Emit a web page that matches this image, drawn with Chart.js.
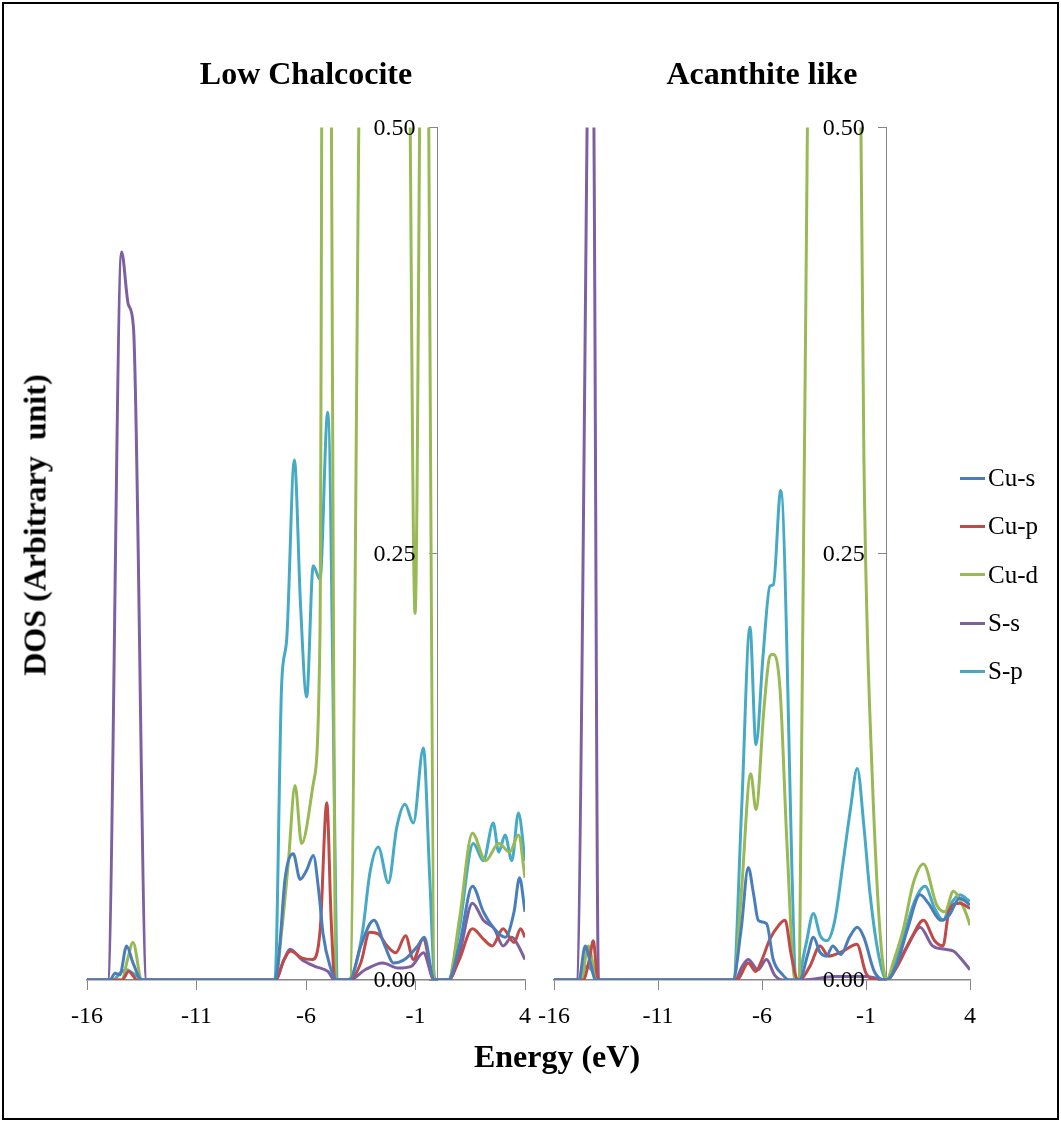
<!DOCTYPE html>
<html>
<head>
<meta charset="utf-8">
<script src="https://cdn.jsdelivr.net/npm/chart.js@4.4.1/dist/chart.umd.min.js"></script>
<style>
  body { margin: 0; background: #fff; font-family: "Liberation Serif", "Times New Roman", serif; }
  #frame { position: absolute; left: 2px; top: 2px; width: 1053px; height: 1114px; border: 2px solid #000; }
  .panel { position: absolute; }
  #yTitle { position: absolute; left: 35px; top: 525px; transform: translate(-50%, -50%) rotate(-90deg);
            font-weight: bold; font-size: 32px; white-space: pre; }
  #xTitle { position: absolute; left: 557px; top: 1056px; transform: translate(-50%, -50%);
            font-weight: bold; font-size: 32px; white-space: pre; }
  #legend { position: absolute; left: 960px; top: 454px; }
  .item { height: 48.3px; display: flex; align-items: center; font-size: 25px; }
  .swatch { width: 25px; height: 3px; margin-right: 3px; }
</style>
</head>
<body>
<div id="frame"></div>
<div class="panel" style="left:40px; top:40px; width:530px; height:1000px;"><canvas id="lowChalcocite"></canvas></div>
<div class="panel" style="left:524px; top:40px; width:494px; height:1000px;"><canvas id="acanthite"></canvas></div>
<div id="yTitle">DOS (Arbitrary  unit)</div>
<div id="xTitle">Energy (eV)</div>
<div id="legend"></div>

<script>
// Energy axis ticks (eV) and DOS ticks
const energyTicks = [-16, -11, -6, -1, 4];
const dosTicks = [0, 0.25, 0.5];

const seriesNames = ["Cu-s", "Cu-p", "Cu-d", "S-s", "S-p"];
const seriesColors = ["#4A7EBB", "#BE4B48", "#98B954", "#7D60A0", "#46AAC5"];

// Low Chalcocite PDOS, [energy, dos] pairs
const lcCuS = [[-16,0],[-14.95,0],[-14.72,0.004],[-14.5,0.003],[-14.19,0.02],[-13.9,0.01],[-13.5,0],
  [-7.4,0],[-7.2,0.02],[-6.96,0.059],[-6.58,0.074],[-6.27,0.059],[-5.95,0.065],[-5.67,0.073],[-5.4,0.05],[-5.22,0.027],[-4.9,0.008],[-4.6,0],
  [-4.0,0],[-3.5,0.02],[-2.9,0.035],[-2.4,0.02],[-2.0,0.01],[-1.5,0.012],[-0.9,0.02],[-0.6,0.025],[-0.15,0],
  [0.5,0],[1.0,0.02],[1.6,0.055],[2.1,0.04],[2.6,0.03],[3.1,0.025],[3.5,0.04],[3.75,0.06],[4,0.04]];
const lcCuP = [[-16,0],[-14.4,0],[-14.1,0.005],[-13.7,0],
  [-7.4,0],[-7.0,0.012],[-6.7,0.017],[-6.2,0.013],[-5.7,0.012],[-5.35,0.03],[-5.05,0.104],[-4.85,0.035],[-4.68,0],
  [-4.0,0],[-3.5,0.01],[-3.1,0.028],[-2.7,0.027],[-2.3,0.02],[-1.9,0.016],[-1.45,0.026],[-1.1,0.012],[-0.65,0.024],[-0.15,0],
  [0.5,0],[1.0,0.012],[1.6,0.03],[2.1,0.024],[2.5,0.02],[3.0,0.03],[3.5,0.022],[3.8,0.03],[4,0.025]];
const lcCuD = [[-16,0],[-14.4,0],[-14.15,0.012],[-13.9,0.022],[-13.5,0],
  [-7.4,0],[-7.1,0.03],[-6.8,0.07],[-6.5,0.114],[-6.2,0.08],[-5.67,0.115],[-5.36,0.204],[-5.22,0.7],[-4.95,0.7],[-4.63,0],
  [-4.0,0],[-3.4,0.7],[-2.5,0.8],[-1.4,0.7],[-1.02,0.215],[-0.65,0.7],[-0.55,0.7],[-0.11,0],
  [0.5,0],[1.0,0.035],[1.6,0.086],[2.2,0.07],[2.8,0.08],[3.3,0.075],[3.7,0.085],[4,0.06]];
const lcSS = [[-16,0],[-15.05,0],[-14.42,0.427],[-14.11,0.396],[-13.88,0.383],[-13.28,0],
  [-7.4,0],[-7.0,0.012],[-6.73,0.018],[-6.2,0.012],[-5.6,0.008],[-5.0,0.005],[-4.7,0],
  [-4.0,0],[-3.3,0.006],[-2.5,0.01],[-1.8,0.007],[-1.2,0.008],[-0.64,0.016],[-0.15,0],
  [0.5,0],[1.0,0.015],[1.6,0.045],[2.1,0.035],[2.6,0.03],[3.0,0.02],[3.4,0.025],[3.7,0.02],[4,0.012]];
const lcSP = [[-16,0],[-14.8,0],[-14.5,0.004],[-14.2,0.006],[-13.8,0.003],[-13.4,0],
  [-7.42,0],[-7.11,0.174],[-6.88,0.2],[-6.53,0.305],[-6.25,0.22],[-5.97,0.166],[-5.67,0.243],[-5.36,0.235],[-5.01,0.333],[-4.52,0],
  [-4.1,0],[-3.7,0.01],[-3.4,0.03],[-3.08,0.063],[-2.7,0.078],[-2.24,0.057],[-1.85,0.09],[-1.48,0.103],[-1.1,0.092],[-0.64,0.136],[-0.35,0.06],[-0.11,0],
  [0.5,0],[1.0,0.03],[1.64,0.08],[2.1,0.07],[2.55,0.092],[2.8,0.075],[3.09,0.085],[3.4,0.07],[3.7,0.098],[4,0.07]];

// Acanthite-like PDOS, [energy, dos] pairs
const acCuS = [[-16,0],[-14.8,0],[-14.5,0.02],[-14.25,0.01],[-14.0,0],
  [-7.4,0],[-7.0,0.03],[-6.66,0.066],[-6.4,0.05],[-6.18,0.035],[-5.78,0.033],[-5.46,0.012],[-5.0,0.003],[-4.7,0],
  [-4.2,0],[-3.8,0.015],[-3.53,0.025],[-3.2,0.016],[-2.9,0.014],[-2.6,0.02],[-2.2,0.015],[-1.8,0.025],[-1.42,0.031],[-1.1,0.025],[-0.6,0.005],[-0.1,0],
  [0,0],[0.5,0.01],[1.0,0.03],[1.6,0.05],[2.0,0.045],[2.6,0.035],[3.0,0.038],[3.5,0.048],[4,0.044]];
const acCuP = [[-16,0],[-14.6,0],[-14.3,0.012],[-14.11,0.023],[-13.95,0.005],[-13.85,0],
  [-7.2,0],[-6.66,0.01],[-6.3,0.005],[-6.0,0.012],[-5.62,0.024],[-5.2,0.032],[-4.89,0.035],[-4.6,0.015],[-4.27,0],
  [-4.2,0],[-3.7,0.008],[-3.21,0.02],[-2.8,0.014],[-2.1,0.017],[-1.44,0.021],[-1.0,0.004],[-0.5,0],
  [0,0],[0.5,0.008],[1.2,0.025],[1.76,0.035],[2.3,0.023],[2.7,0.02],[3.0,0.041],[3.5,0.045],[4,0.042]];
const acCuD = [[-16,0],[-14.7,0],[-14.35,0.02],[-14.1,0.008],[-13.9,0],
  [-7.35,0],[-7.0,0.05],[-6.54,0.121],[-6.29,0.1],[-5.9,0.16],[-5.62,0.19],[-5.46,0.191],[-5.13,0.17],[-4.8,0.08],[-4.41,0],
  [-4.2,0],[-3.6,0.8],[-2.5,0.9],[-1.45,0.75],[-1.1,0.305],[-0.73,0.129],[0,0],
  [0.3,0.01],[0.8,0.03],[1.28,0.057],[1.76,0.068],[2.4,0.044],[2.8,0.04],[3.2,0.052],[3.6,0.045],[3.9,0.036],[4,0.032]];
const acSS = [[-16,0],[-14.92,0],[-14.41,0.5],[-14.25,0.75],[-14.08,0.5],[-13.86,0],
  [-7.3,0],[-6.95,0.008],[-6.66,0.012],[-6.2,0.006],[-5.78,0.012],[-5.4,0.003],[-5.0,0],
  [-4.0,0],[-2.5,0.002],[-1.0,0.002],[0,0],
  [0.3,0.005],[1.0,0.02],[1.6,0.031],[2.2,0.02],[2.8,0.018],[3.2,0.017],[3.6,0.012],[4,0.006]];
const acSP = [[-16,0],[-14.8,0],[-14.45,0.008],[-14.2,0.006],[-13.9,0],
  [-7.38,0],[-6.98,0.1],[-6.58,0.207],[-6.29,0.138],[-5.95,0.19],[-5.62,0.231],[-5.45,0.232],[-5.1,0.287],[-4.32,0],
  [-3.9,0.02],[-3.53,0.039],[-3.2,0.026],[-2.89,0.023],[-2.5,0.035],[-2.09,0.07],[-1.75,0.1],[-1.42,0.124],[-1.1,0.09],[-0.81,0.051],[-0.4,0.015],[0,0],
  [0.3,0.008],[0.8,0.025],[1.3,0.045],[1.84,0.055],[2.3,0.042],[2.72,0.035],[3.0,0.043],[3.52,0.05],[3.8,0.048],[4,0.046]];

const axisGray = "#868686";
const serif = "'Liberation Serif', 'Times New Roman', serif";

// DOS labels sit left of the y axis (which crosses at E = 0), drawn over the curves
const dosLabels = {
  id: "dosLabels",
  afterDraw(chart) {
    const { ctx, scales: { x, y } } = chart;
    const x0 = x.getPixelForValue(0);
    ctx.save();
    ctx.font = `24px ${serif}`;
    ctx.fillStyle = "#000";
    ctx.textAlign = "right";
    ctx.textBaseline = "middle";
    dosTicks.forEach((v) => ctx.fillText(v.toFixed(2), x0 - 22, y.getPixelForValue(v) + 1));
    ctx.restore();
  },
};

function buildDatasets(seriesList) {
  return seriesList.map((pairs, i) => ({
    label: seriesNames[i],
    data: pairs.map(([x, y]) => ({ x, y })),
    borderColor: seriesColors[i],
    borderWidth: 3,
    pointRadius: 0,
    cubicInterpolationMode: "monotone",
    fill: false,
  }));
}

function makePanel(canvasId, title, seriesList, pad) {
  const ctx = document.getElementById(canvasId).getContext("2d");
  return new Chart(ctx, {
    type: "line",
    data: { datasets: buildDatasets(seriesList) },
    plugins: [dosLabels],
    options: {
      responsive: true,
      maintainAspectRatio: false,
      animation: false,
      layout: { padding: { left: pad.left, right: pad.right, top: 0, bottom: 0 } },
      plugins: {
        legend: { display: false },
        tooltip: { enabled: false },
        title: {
          display: true,
          text: title,
          color: "#000",
          font: { family: serif, size: 32, weight: "bold" },
          padding: { top: 17, bottom: 32 },
        },
      },
      scales: {
        x: {
          type: "linear",
          min: -16,
          max: 4,
          afterBuildTicks: (scale) => {
            scale.ticks = energyTicks.map((value) => ({ value }));
          },
          afterFit: (scale) => {
            scale.height = 60;
          },
          border: { display: true, color: axisGray, width: 1.5 },
          grid: { drawOnChartArea: false, drawTicks: true, tickLength: 10, color: axisGray },
          ticks: {
            color: "#000",
            padding: 12,
            maxRotation: 0,
            font: { family: serif, size: 24 },
          },
        },
        y: {
          type: "linear",
          min: 0,
          max: 0.5,
          position: { x: 0 },
          afterBuildTicks: (scale) => {
            scale.ticks = dosTicks.map((value) => ({ value }));
          },
          border: { display: true, color: axisGray, width: 1 },
          grid: { drawOnChartArea: false, drawTicks: true, tickLength: 8, color: axisGray },
          ticks: { display: false },
        },
      },
    },
  });
}

// legend built from the series names/colours
const legendBox = document.getElementById("legend");
seriesNames.forEach((name, i) => {
  const row = document.createElement("div");
  row.className = "item";
  row.innerHTML = `<span class="swatch" style="background:${seriesColors[i]}"></span>${name}`;
  legendBox.appendChild(row);
});

makePanel("lowChalcocite", "Low Chalcocite", [lcCuS, lcCuP, lcCuD, lcSS, lcSP], { left: 47, right: 45 });
makePanel("acanthite", "Acanthite like", [acCuS, acCuP, acCuD, acSS, acSP], { left: 30, right: 48 });
</script>
</body>
</html>
